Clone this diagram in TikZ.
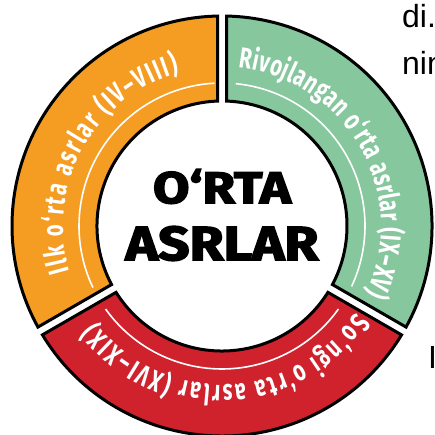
\documentclass[tikz,border=0pt]{standalone}
\usepackage{fontspec}
\usepackage{graphicx}
\usetikzlibrary{decorations.text}
\newfontfamily\arcfont[FakeStretch=0.7]{Fira Sans}
\newfontfamily\hubfont[FakeBold=3]{Fira Sans}
\newfontfamily\pagefont{Liberation Sans}
\newcommand\arclabel{\arcfont\bfseries\fontsize{29}{29}\selectfont}
\definecolor{segorange}{RGB}{245,157,34}
\definecolor{seggreen}{RGB}{134,199,158}
\definecolor{segred}{RGB}{208,34,45}
\tikzset{
  seg/.style={draw=black, line width=3pt},
  rim/.style={draw=white, line width=1.6pt},
  arctext/.style={decorate, decoration={text along path, text align=fit to path, text color=white}},
  hub/.style={inner sep=0pt, font=\hubfont\bfseries},
  pagetext/.style={inner sep=0pt, anchor=base west, font=\pagefont\fontsize{32}{32}\selectfont, text=black},
}
\begin{document}
\begin{tikzpicture}[x=1pt,y=1pt]
\clip (-222,-209) rectangle (212,226);
% segments
\path[seg, fill=segorange] (91.228:210) arc[start angle=91.228, end angle=208.772, radius=210]
  -- (207.937:125) arc[start angle=207.937, end angle=92.063, radius=125] -- cycle;
\path[seg, fill=segred] (211.228:210) arc[start angle=211.228, end angle=328.772, radius=210]
  -- (327.937:125) arc[start angle=327.937, end angle=212.063, radius=125] -- cycle;
\path[seg, fill=seggreen] (-28.772:210) arc[start angle=-28.772, end angle=88.772, radius=210]
  -- (87.937:125) arc[start angle=87.937, end angle=-27.937, radius=125] -- cycle;
% inner white rims
\draw[rim] (205.5:143) arc[start angle=205.5, end angle=93, radius=143];
\draw[rim] (84.5:143) arc[start angle=84.5, end angle=-25, radius=143];
\draw[rim] (215.5:143) arc[start angle=215.5, end angle=324.5, radius=143];
% curved labels
\path[arctext, decoration={text={|\arclabel|Ilk o‘rta asrlar (IV–VIII)}}]
  (196.5:159) arc[start angle=196.5, end angle=105.5, radius=159];
\path[arctext, decoration={text={|\arclabel|Rivojlangan o‘rta asrlar (IX–XV)}}]
  (84:159) arc[start angle=84, end angle=-25, radius=159];
\path[arctext, decoration={text={|\arclabel|So‘ngi o‘rta asrlar (XVI–XIX)}}]
  (-33:159) arc[start angle=-33, end angle=-142.8, radius=159];
% centre title
\node[hub] (t1) at (0,39.5) {\resizebox{138pt}{34pt}{O‘RTA}};
\node[hub] (t2) at (0,-17.5) {\resizebox{193pt}{34pt}{ASRLAR}};
% page text fragments
\node[pagetext] (p1) at (180,198) {di.};
\node[pagetext] (p2) at (180,151) {nin};
\node[pagetext] (p3) at (206,-142) {I};
\end{tikzpicture}
\end{document}
